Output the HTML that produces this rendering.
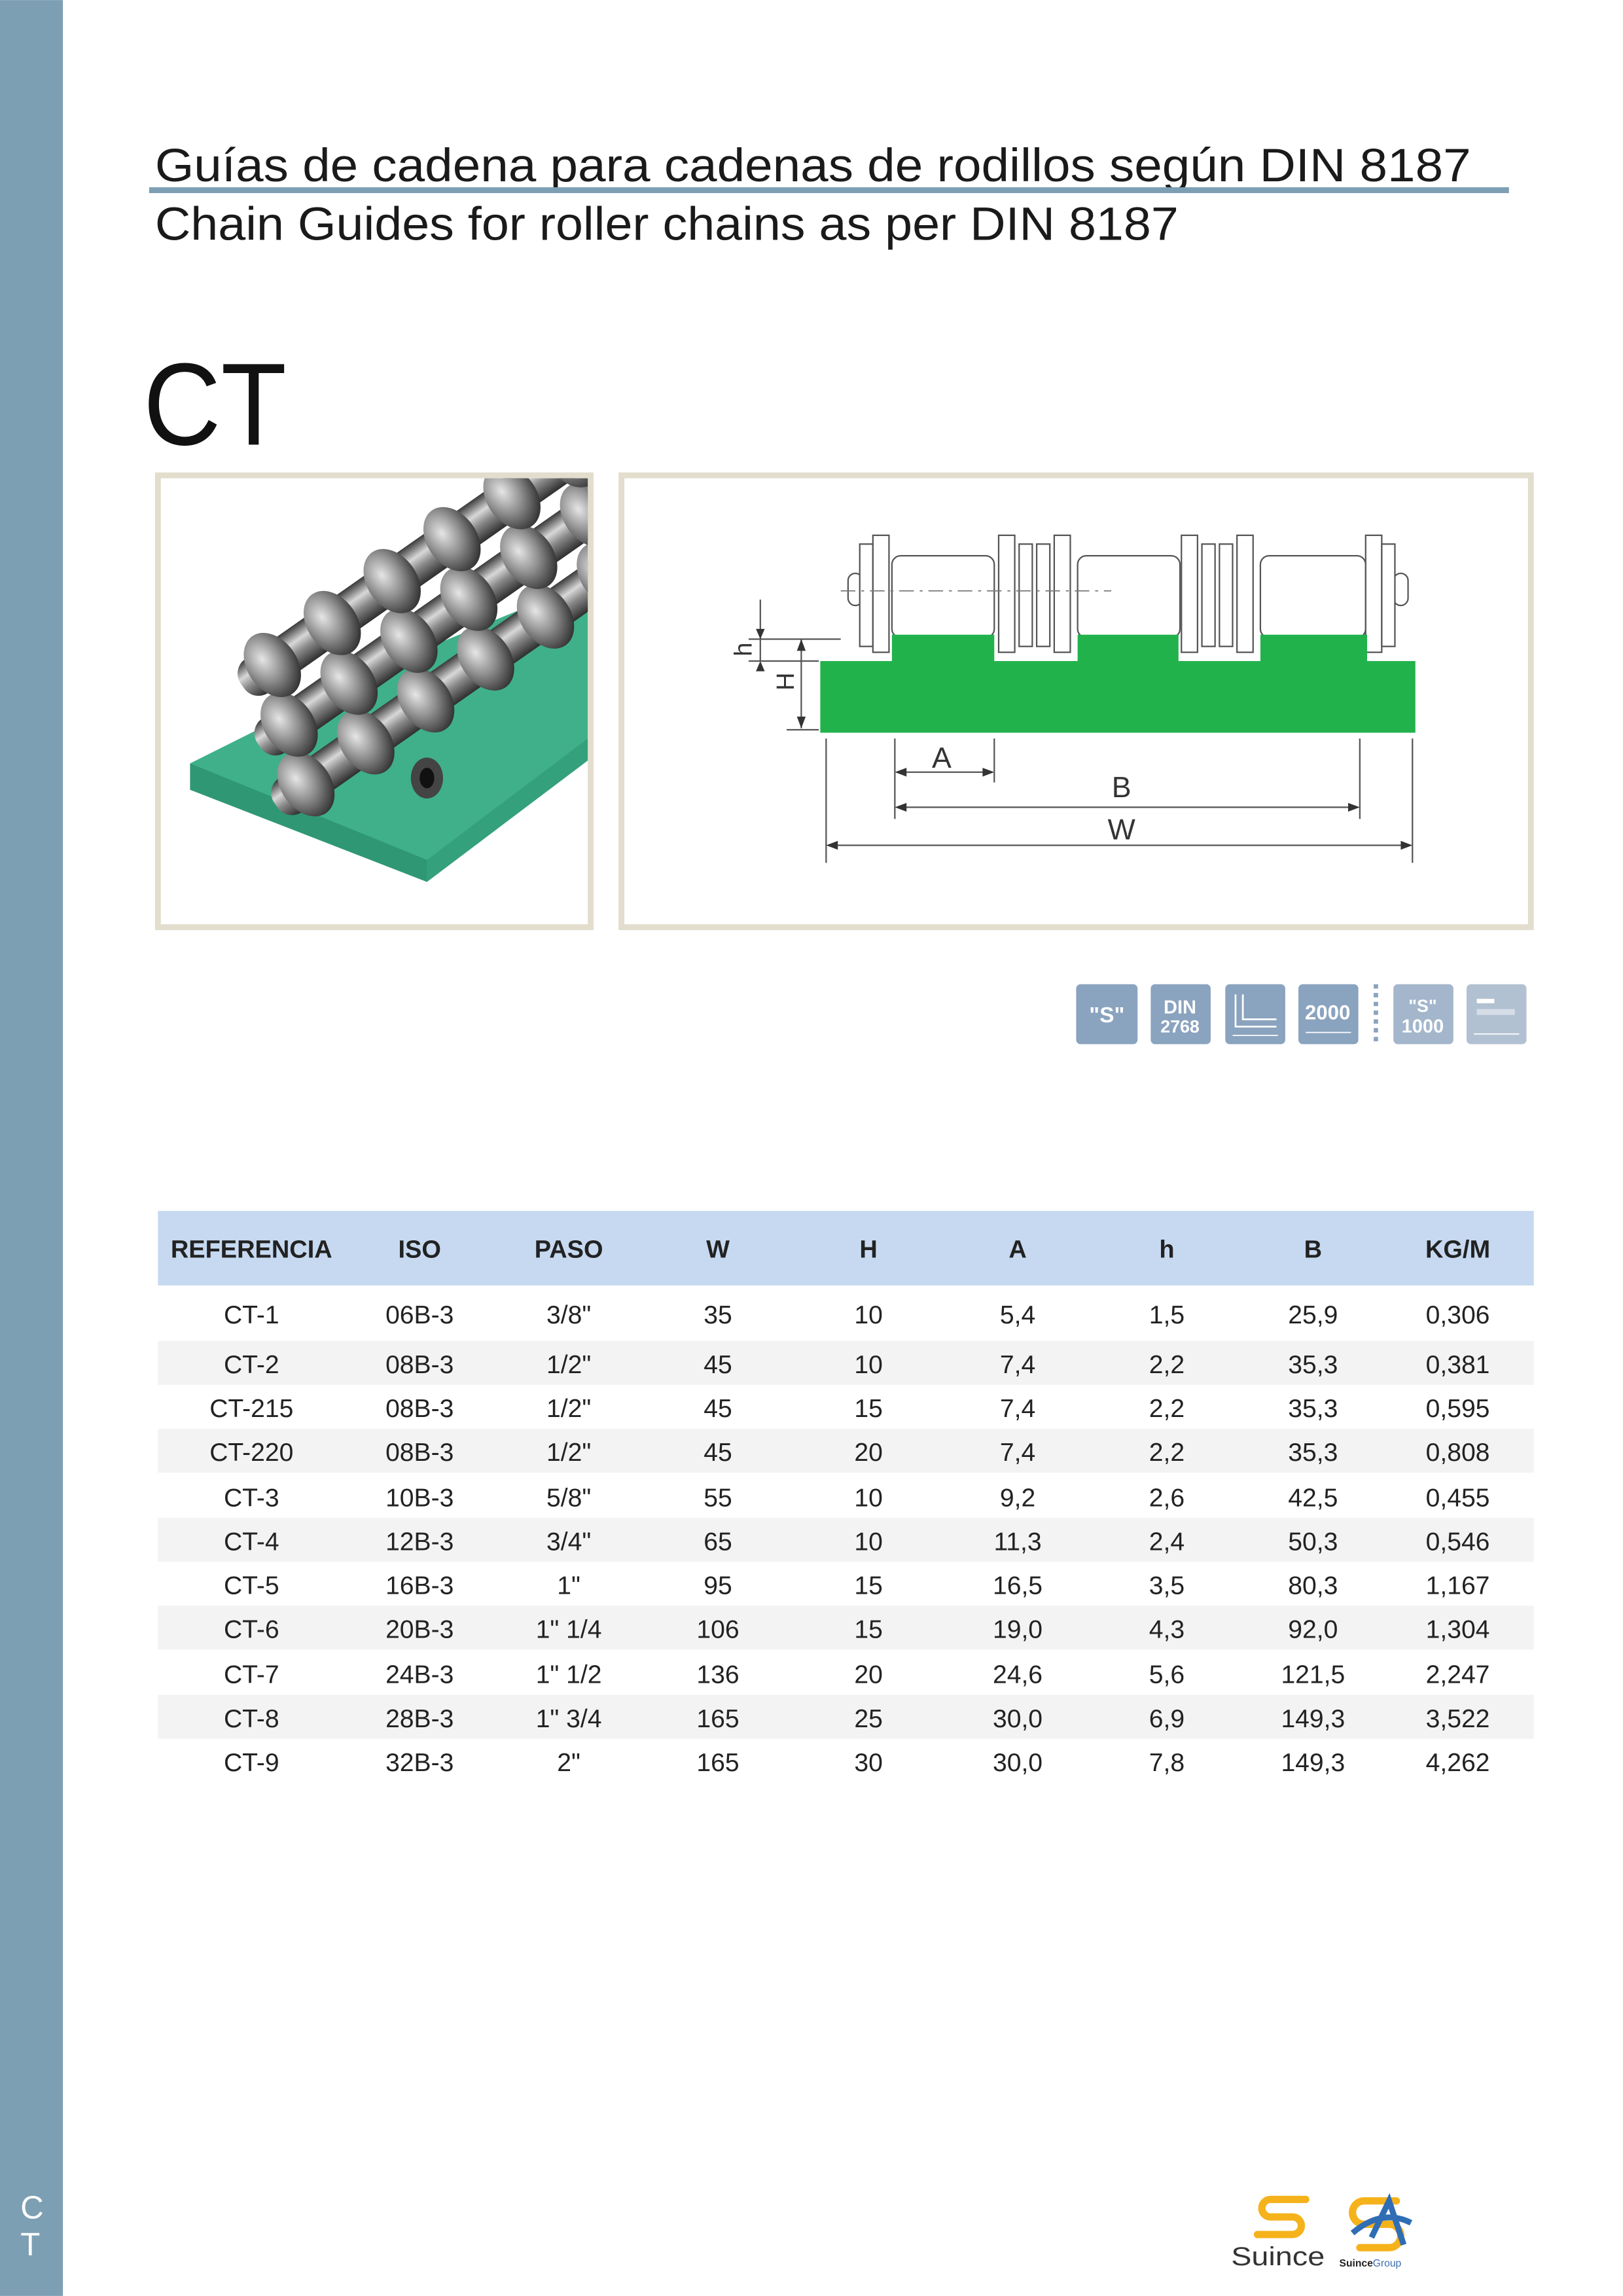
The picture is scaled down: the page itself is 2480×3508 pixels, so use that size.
<!DOCTYPE html>
<html><head><meta charset="utf-8"><style>
html,body{margin:0;padding:0;background:#fff}
svg{display:block}
text{font-family:"Liberation Sans",sans-serif}
</style></head><body>
<svg width="2480" height="3508" viewBox="0 0 1110 1570" xmlns="http://www.w3.org/2000/svg">
<defs>
<linearGradient id="rl" x1="0" y1="0" x2="0" y2="1">
<stop offset="0" stop-color="#3a3a3a"/><stop offset="0.35" stop-color="#d8d8d8"/><stop offset="0.6" stop-color="#8a8a8a"/><stop offset="1" stop-color="#2e2e2e"/>
</linearGradient>
<radialGradient id="rg" cx="0.4" cy="0.35" r="0.7">
<stop offset="0" stop-color="#e6e6e6"/><stop offset="0.5" stop-color="#8d8d8d"/><stop offset="1" stop-color="#2c2c2c"/>
</radialGradient>
<clipPath id="pc"><rect x="110" y="327" width="292" height="305"/></clipPath>
</defs>
<rect x="0" y="0" width="1110" height="1570" fill="#fff"/>
<rect x="0" y="0" width="43" height="1570" fill="#7d9fb3"/>
<text x="14" y="1517" font-size="22" fill="#fff">C</text>
<text x="14" y="1542" font-size="22" fill="#fff">T</text>

<text x="106" y="124" font-size="32" fill="#1a1a1a" textLength="900" lengthAdjust="spacingAndGlyphs">Guías de cadena para cadenas de rodillos según DIN 8187</text>
<rect x="102" y="128" width="930" height="4" fill="#7d9fb3"/>
<text x="106" y="164" font-size="32" fill="#1a1a1a" textLength="700" lengthAdjust="spacingAndGlyphs">Chain Guides for roller chains as per DIN 8187</text>
<text x="98" y="304" font-size="80" fill="#111" textLength="98" lengthAdjust="spacingAndGlyphs">CT</text>

<!-- photo box -->
<rect x="108" y="325" width="296" height="309" fill="#fff" stroke="#e2ddcd" stroke-width="4"/>
<g clip-path="url(#pc)">
<polygon points="130,522 270,452 402,398 402,520 292,603 130,540" fill="#3fb08a"/>
<polygon points="130,522 292,588 292,603 130,540" fill="#2f9774"/>
<polygon points="292,588 402,505 402,520 292,603" fill="#34a07c"/>
<g transform="rotate(-35 270 440)">
<g id="row">
<rect x="140" y="470" width="320" height="28" rx="12" fill="url(#rl)"/>
<g fill="url(#rg)">
<ellipse cx="165" cy="484" rx="17" ry="24"/><ellipse cx="215" cy="484" rx="17" ry="24"/><ellipse cx="265" cy="484" rx="17" ry="24"/><ellipse cx="315" cy="484" rx="17" ry="24"/><ellipse cx="365" cy="484" rx="17" ry="24"/><ellipse cx="415" cy="484" rx="17" ry="24"/>
</g>
</g>
<use href="#row" transform="translate(14,-40)"/>
<use href="#row" transform="translate(28,-80)"/>
</g>
<ellipse cx="292" cy="532" rx="11" ry="14" fill="#444"/>
<ellipse cx="292" cy="532" rx="5" ry="7" fill="#111"/>
</g>

<!-- diagram box -->
<rect x="425" y="325" width="622" height="309" fill="#fff" stroke="#e2ddcd" stroke-width="4"/>
<g stroke="#555" stroke-width="1" fill="#fff">
<rect x="580" y="392" width="10" height="22" rx="5"/>
<rect x="953" y="392" width="10" height="22" rx="5"/>
<rect x="610" y="380" width="70" height="56" rx="6"/>
<rect x="737" y="380" width="70" height="56" rx="6"/>
<rect x="862" y="380" width="72" height="56" rx="6"/>
<rect x="588" y="372" width="9" height="70"/>
<rect x="597" y="366" width="11" height="80"/>
<rect x="683" y="366" width="11" height="80"/>
<rect x="697" y="372" width="9" height="70"/>
<rect x="709" y="372" width="9" height="70"/>
<rect x="721" y="366" width="11" height="80"/>
<rect x="808" y="366" width="11" height="80"/>
<rect x="822" y="372" width="9" height="70"/>
<rect x="834" y="372" width="9" height="70"/>
<rect x="846" y="366" width="11" height="80"/>
<rect x="934" y="366" width="11" height="80"/>
<rect x="945" y="372" width="9" height="70"/>
</g>
<line x1="575" y1="404" x2="760" y2="404" stroke="#777" stroke-width="0.8" stroke-dasharray="10,4,2,4"/>
<path d="M561 452 H610 V434 H680 V452 H737 V434 H806 V452 H862 V434 H935 V452 H968 V501 H561 Z" fill="#22b24c"/>
<g stroke="#555" stroke-width="1" fill="none">
<line x1="565" y1="505" x2="565" y2="590"/><line x1="966" y1="505" x2="966" y2="590"/>
<line x1="612" y1="505" x2="612" y2="560"/><line x1="680" y1="505" x2="680" y2="535"/>
<line x1="930" y1="505" x2="930" y2="560"/>
<line x1="568" y1="578" x2="963" y2="578"/>
<line x1="615" y1="552" x2="927" y2="552"/>
<line x1="615" y1="528" x2="676" y2="528"/>
<line x1="520" y1="410" x2="520" y2="452"/><line x1="548" y1="437" x2="548" y2="498"/>
<line x1="512" y1="437" x2="575" y2="437"/><line x1="512" y1="452" x2="560" y2="452"/>
<line x1="538" y1="499" x2="560" y2="499"/>
</g>
<g fill="#333">
<polygon points="565,578 573,575 573,581"/><polygon points="966,578 958,575 958,581"/>
<polygon points="612,552 620,549 620,555"/><polygon points="930,552 922,549 922,555"/>
<polygon points="612,528 620,525 620,531"/><polygon points="680,528 672,525 672,531"/>
<polygon points="548,437 545,445 551,445"/><polygon points="548,498 545,490 551,490"/>
<polygon points="520,437 517,430 523,430"/><polygon points="520,452 517,459 523,459"/>
</g>
<g font-size="20" fill="#333" text-anchor="middle">
<text x="644" y="525">A</text><text x="767" y="545">B</text><text x="767" y="574">W</text>
<text transform="translate(514,444) rotate(-90)" font-size="17">h</text>
<text transform="translate(543,466) rotate(-90)" font-size="17">H</text>
</g>

<!-- icons -->
<g>
<rect x="736" y="673" width="42" height="41" rx="3" fill="#8aa3bf"/>
<rect x="787" y="673" width="41" height="41" rx="3" fill="#8aa3bf"/>
<rect x="838" y="673" width="41" height="41" rx="3" fill="#8aa3bf"/>
<rect x="888" y="673" width="41" height="41" rx="3" fill="#8aa3bf"/>
<line x1="941" y1="673" x2="941" y2="714" stroke="#8aa3bf" stroke-width="3" stroke-dasharray="3,3"/>
<rect x="953" y="673" width="41" height="41" rx="3" fill="#a3b6cb"/>
<rect x="1003" y="673" width="41" height="41" rx="3" fill="#b2c1d2"/>
<g fill="#fff" font-weight="bold" text-anchor="middle">
<text x="757" y="699" font-size="15">"S"</text>
<text x="807" y="693" font-size="13">DIN</text><text x="807" y="706" font-size="12">2768</text>
<text x="908" y="697" font-size="14">2000</text>
<text x="973" y="692" font-size="12">"S"</text><text x="973" y="706" font-size="13">1000</text>
</g>
<path d="M845 680 V702 H873 M850 680 V697 H873" stroke="#fff" stroke-width="1.2" fill="none"/>
<rect x="1010" y="683" width="12" height="3" fill="#fff"/><rect x="1010" y="690" width="26" height="4" fill="#d5dde7"/>
<g stroke="#fff" stroke-width="0.8"><line x1="843" y1="708" x2="874" y2="708"/><line x1="893" y1="706" x2="924" y2="706"/><line x1="1008" y1="707" x2="1039" y2="707"/></g>
</g>

<!-- table -->
<rect x="108" y="828" width="941" height="51" fill="#c6d9f0"/>
<g fill="#f3f3f3">
<rect x="108" y="917" width="941" height="30"/>
<rect x="108" y="977" width="941" height="30"/>
<rect x="108" y="1038" width="941" height="30"/>
<rect x="108" y="1098" width="941" height="30"/>
<rect x="108" y="1159" width="941" height="30"/>
</g>
<g font-size="17" font-weight="bold" fill="#222" text-anchor="middle">
<text x="172" y="860">REFERENCIA</text><text x="287" y="860">ISO</text><text x="389" y="860">PASO</text>
<text x="491" y="860">W</text><text x="594" y="860">H</text><text x="696" y="860">A</text>
<text x="798" y="860">h</text><text x="898" y="860">B</text><text x="997" y="860">KG/M</text>
</g>
<g font-size="17.5" fill="#222" text-anchor="middle">
<g transform="translate(0,905)"><text x="172">CT-1</text><text x="287">06B-3</text><text x="389">3/8"</text><text x="491">35</text><text x="594">10</text><text x="696">5,4</text><text x="798">1,5</text><text x="898">25,9</text><text x="997">0,306</text></g>
<g transform="translate(0,939)"><text x="172">CT-2</text><text x="287">08B-3</text><text x="389">1/2"</text><text x="491">45</text><text x="594">10</text><text x="696">7,4</text><text x="798">2,2</text><text x="898">35,3</text><text x="997">0,381</text></g>
<g transform="translate(0,969)"><text x="172">CT-215</text><text x="287">08B-3</text><text x="389">1/2"</text><text x="491">45</text><text x="594">15</text><text x="696">7,4</text><text x="798">2,2</text><text x="898">35,3</text><text x="997">0,595</text></g>
<g transform="translate(0,999)"><text x="172">CT-220</text><text x="287">08B-3</text><text x="389">1/2"</text><text x="491">45</text><text x="594">20</text><text x="696">7,4</text><text x="798">2,2</text><text x="898">35,3</text><text x="997">0,808</text></g>
<g transform="translate(0,1030)"><text x="172">CT-3</text><text x="287">10B-3</text><text x="389">5/8"</text><text x="491">55</text><text x="594">10</text><text x="696">9,2</text><text x="798">2,6</text><text x="898">42,5</text><text x="997">0,455</text></g>
<g transform="translate(0,1060)"><text x="172">CT-4</text><text x="287">12B-3</text><text x="389">3/4"</text><text x="491">65</text><text x="594">10</text><text x="696">11,3</text><text x="798">2,4</text><text x="898">50,3</text><text x="997">0,546</text></g>
<g transform="translate(0,1090)"><text x="172">CT-5</text><text x="287">16B-3</text><text x="389">1"</text><text x="491">95</text><text x="594">15</text><text x="696">16,5</text><text x="798">3,5</text><text x="898">80,3</text><text x="997">1,167</text></g>
<g transform="translate(0,1120)"><text x="172">CT-6</text><text x="287">20B-3</text><text x="389">1" 1/4</text><text x="491">106</text><text x="594">15</text><text x="696">19,0</text><text x="798">4,3</text><text x="898">92,0</text><text x="997">1,304</text></g>
<g transform="translate(0,1151)"><text x="172">CT-7</text><text x="287">24B-3</text><text x="389">1" 1/2</text><text x="491">136</text><text x="594">20</text><text x="696">24,6</text><text x="798">5,6</text><text x="898">121,5</text><text x="997">2,247</text></g>
<g transform="translate(0,1181)"><text x="172">CT-8</text><text x="287">28B-3</text><text x="389">1" 3/4</text><text x="491">165</text><text x="594">25</text><text x="696">30,0</text><text x="798">6,9</text><text x="898">149,3</text><text x="997">3,522</text></g>
<g transform="translate(0,1211)"><text x="172">CT-9</text><text x="287">32B-3</text><text x="389">2"</text><text x="491">165</text><text x="594">30</text><text x="696">30,0</text><text x="798">7,8</text><text x="898">149,3</text><text x="997">4,262</text></g>
</g>

<!-- logos -->
<g fill="none" stroke="#f5b21b" stroke-width="5" stroke-linecap="round">
<path d="M893 1504 H869 A6 6 0 0 0 869 1516 H884 A6 6 0 0 1 884 1528 H860"/>
<path d="M955 1505 H933 A8 8 0 0 0 933 1521 H950 A8 8 0 0 1 950 1537 H930"/>
</g>
<path d="M925 1527 Q945 1510 965 1520 M938 1530 L950 1505 L960 1535" stroke="#2f6db5" stroke-width="4" fill="none"/>
<text x="842" y="1549" font-size="18" fill="#333" textLength="64" lengthAdjust="spacingAndGlyphs">Suince</text>
<text x="916" y="1550" font-size="7" fill="#222" font-weight="bold">Suince<tspan fill="#3a6fb0" font-weight="normal">Group</tspan></text>
</svg>
</body></html>
